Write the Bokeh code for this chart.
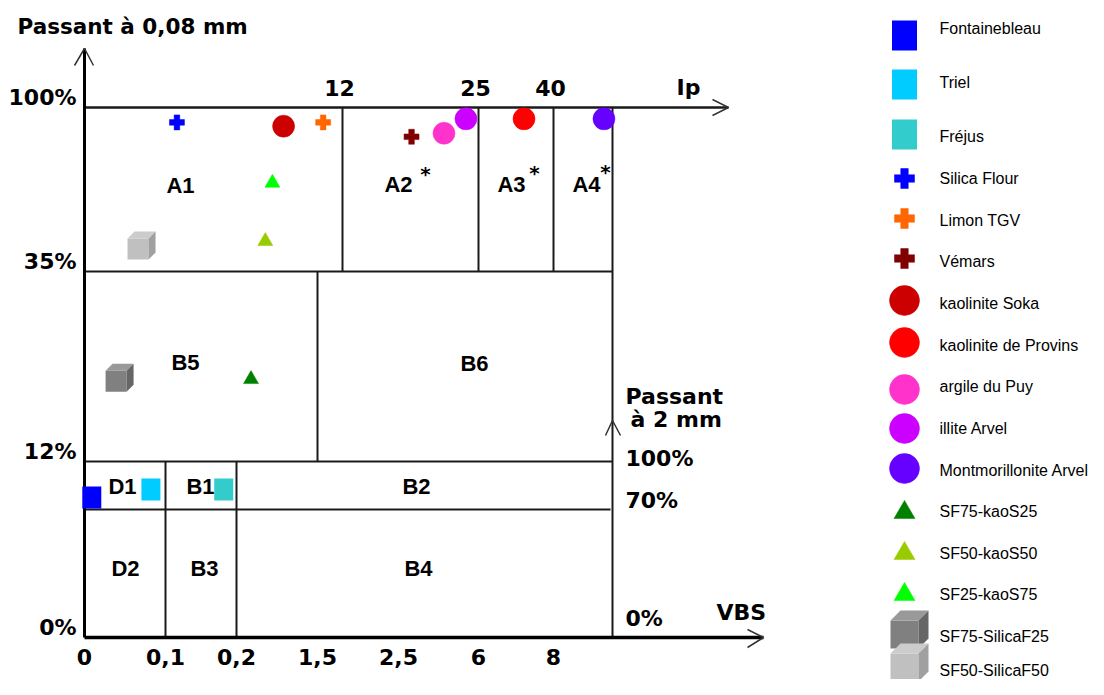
import numpy as np
from bokeh.plotting import figure
from bokeh.models import Range1d, ColumnDataSource
from bokeh.core.properties import value
from bokeh.embed import file_html
from bokeh.resources import INLINE

# ---------------- data ----------------
names = ["Fontainebleau", "Triel", "Fréjus", "Silica Flour", "Limon TGV", "Vémars",
         "kaolinite Soka", "kaolinite de Provins", "argile du Puy", "illite Arvel",
         "Montmorillonite Arvel", "SF75-kaoS25", "SF50-kaoS50", "SF25-kaoS75",
         "SF75-SilicaF25", "SF50-SilicaF50"]
colors = ["#0000FF", "#00CCFF", "#33CCCC", "#0000FF", "#FF6600", "#800000",
          "#CC0000", "#FF0000", "#FF33CC", "#CC00FF", "#6600FF",
          "#008000", "#99CC00", "#00FF00", "#808080", "#C0C0C0"]
markers = ["square", "square", "square", "plus", "plus", "plus",
           "circle", "circle", "circle", "circle", "circle",
           "triangle", "triangle", "triangle", "cube", "cube"]
# which scale each point uses
x_scale_of = ["VBS", "VBS", "VBS", "Ip", "Ip", "Ip", "Ip", "Ip", "Ip", "Ip", "Ip",
              "VBS", "Ip", "Ip", "VBS", "Ip"]
x_values = [0.009, 0.082, 0.182, 4.3, 11.1, 18.6, 9.26, 34.1, 21.7, 23.8, 57.1,
            0.433, 8.41, 8.74, 0.039, 2.49]
y_scale_of = ["P2", "P2", "P2", "P80", "P80", "P80", "P80", "P80", "P80", "P80", "P80",
              "P80", "P80", "P80", "P80", "P80"]
y_values = [77.5, 82.5, 82.5, 94.1, 94.1, 88.4, 92.6, 95.5, 89.8, 95.5, 95.5,
            22.2, 47.8, 70.9, 21.7, 43.9]

vbs_ticks = [0, 0.1, 0.2, 1.5, 2.5, 6, 8]
vbs_tick_labels = ["0", "0,1", "0,2", "1,5", "2,5", "6", "8"]
ip_ticks = [12, 25, 40]
ip_tick_labels = ["12", "25", "40"]
p80_ticks = [0, 12, 35, 100]
p80_tick_labels = ["0%", "12%", "35%", "100%"]
p2_ticks = [0, 70, 100]
p2_tick_labels = ["0%", "70%", "100%"]

zone_labels = ["A1", "A2", "A3", "A4", "B5", "B6", "D1", "B1", "B2", "D2", "B3", "B4"]

# ---------------- layout (schematic piecewise scales, screen px) ----------------
VBS_POS = [84, 165, 236, 317, 398, 478, 553]
IP_BREAKS = [0, 12, 25, 40, 60]
IP_POS = [84, 342, 478, 553, 612]
P80_POS = [637, 461, 271, 107]
P2_POS = [637, 509, 461]
X_RIGHT = 612

def fx(v, scale):
    if scale == "VBS":
        return float(np.interp(v, vbs_ticks, VBS_POS))
    return float(np.interp(v, IP_BREAKS, IP_POS))

def fy(v, scale):
    if scale == "P80":
        return float(np.interp(v, p80_ticks, P80_POS))
    return float(np.interp(v, p2_ticks, P2_POS))

W, H = 1088, 679
p = figure(width=W, height=H, output_backend="svg", toolbar_location=None,
           x_range=Range1d(0, W), y_range=Range1d(H, 0),
           x_axis_type=None, y_axis_type=None, min_border=0,
           outline_line_color=None, background_fill_color="white")
p.grid.visible = False

FONT = value("DejaVu Sans")
LFONT = value("Liberation Sans")
INK = "#1a1a1a"

# ---------------- frame lines ----------------
x0 = fx(0, "VBS")
y0 = fy(0, "P80")
ytop = fy(100, "P80")
y35 = fy(35, "P80")
y12 = fy(12, "P80")
y70 = fy(70, "P2")

thin_xs, thin_ys = [], []
def seg(xa, ya, xb, yb):
    thin_xs.append([xa, xb]); thin_ys.append([ya, yb])

seg(x0, y35, X_RIGHT, y35)
seg(x0, y12, X_RIGHT, y12)
seg(x0, y70, X_RIGHT - 2, y70)
for t in ip_ticks:
    seg(fx(t, "Ip"), ytop, fx(t, "Ip"), y35)
seg(X_RIGHT, ytop, X_RIGHT, y0)
seg(fx(1.5, "VBS"), y35, fx(1.5, "VBS"), y12)
seg(fx(0.1, "VBS"), y12, fx(0.1, "VBS"), y0)
seg(fx(0.2, "VBS"), y12, fx(0.2, "VBS"), y0)
p.multi_line(thin_xs, thin_ys, line_color=INK, line_width=2)

# Ip axis
p.line([x0, 728], [ytop, ytop], line_color=INK, line_width=2.5)
# main axes
p.line([x0, x0], [y0, 48], line_color="black", line_width=3)
p.line([x0, 763], [y0, y0], line_color="black", line_width=3.5)

# arrow heads (open chevrons)
ch_xs = [[74, x0, 93], [747, 763, 747], [712, 728, 712], [605, X_RIGHT, 620]]
ch_ys = [[65, 48, 65], [629, y0, 647], [99, ytop, 115], [435, 420, 435]]
p.multi_line(ch_xs, ch_ys, line_color="#333333", line_width=1.5)

# ---------------- axis texts ----------------
TS = "22px"
bold = dict(text_font=FONT, text_font_style="bold", text_color="black")
p.text(x=[17], y=[26], text=["Passant à 0,08 mm"], text_font_size="21.5px",
       text_align="left", text_baseline="middle", **bold)
p.text(x=[76] * 4, y=[fy(t, "P80") - 10 for t in p80_ticks], text=p80_tick_labels,
       text_font_size=TS, text_align="right", text_baseline="middle", **bold)
p.text(x=[fx(t, "VBS") for t in vbs_ticks], y=[656] * len(vbs_ticks), text=vbs_tick_labels,
       text_font_size=TS, text_align="center", text_baseline="middle", **bold)
p.text(x=[fx(t, "Ip") - 3 for t in ip_ticks], y=[87] * len(ip_ticks), text=ip_tick_labels,
       text_font_size=TS, text_align="center", text_baseline="middle", **bold)
p2_dy = [-19, -9, -3]
p.text(x=[625] * 3, y=[fy(t, "P2") + d for t, d in zip(p2_ticks, p2_dy)], text=p2_tick_labels,
       text_font_size=TS, text_align="left", text_baseline="middle", **bold)
p.text(x=[676, 716, 625, 630], y=[87, 612, 396, 419], text=["Ip", "VBS", "Passant", "à 2 mm"],
       text_font_size=TS, text_align="left", text_baseline="middle", **bold)
# zone labels
zx = [180, 398, 511, 586, 185, 474, 122, 200, 416, 125, 204, 418]
zy = [185, 184, 184, 184, 362, 363, 486, 486, 486, 568, 568, 568]
p.text(x=zx, y=zy, text=zone_labels, text_font=LFONT, text_font_style="bold",
       text_color="black", text_font_size="22px",
       text_align="center", text_baseline="middle")
p.text(x=[425, 534, 605], y=[173, 172, 171], text=["*", "*", "*"],
       text_font_size="20px", text_align="center", text_baseline="middle", **bold)

# ---------------- markers ----------------
px = [fx(v, s) for v, s in zip(x_values, x_scale_of)]
py = [fy(v, s) for v, s in zip(y_values, y_scale_of)]

LEG_X = 904
LEG_MY = [35, 84, 134, 178, 218, 258, 300, 342, 389, 428, 468, 510, 551, 592, 634, 667]
LEG_TY = [28, 82, 136, 178, 220, 261, 303, 345, 386, 428, 470, 511, 553, 594, 636, 670]

def idx(kind):
    return [i for i, m in enumerate(markers) if m == kind]

def draw_cube(cx, cy, s, d, color_front, color_top, color_side):
    # cx, cy = centre of front face
    h = s / 2.0
    l, r, t, b = cx - h, cx + h, cy - h, cy + h
    front = ([l, r, r, l], [t, t, b, b])
    top = ([l, l + d, r + d, r], [t, t - d, t - d, t])
    side = ([r, r + d, r + d, r], [t, t - d, b - d, b])
    p.patches([front[0], top[0], side[0]], [front[1], top[1], side[1]],
              fill_color=[color_front, color_top, color_side], line_color=None)

cube_shades = {"#808080": ("#808080", "#999999", "#666666"),
               "#C0C0C0": ("#C0C0C0", "#CCCCCC", "#A0A0A0")}

for where in ("plot", "legend"):
    if where == "plot":
        X, Y = px, py
        sq_w, sq_h, plus_s, circ_s, tri_s, cube_s, cube_d = 19, 22, 15, 22, 15, 21, 7
    else:
        X, Y = [LEG_X] * len(names), LEG_MY
        sq_w, sq_h, plus_s, circ_s, tri_s, cube_s, cube_d = 25, 30, 20, 30, 21, 28, 10
    ii = idx("square")
    p.rect(x=[X[i] for i in ii], y=[Y[i] for i in ii], width=sq_w, height=sq_h,
           width_units="screen", height_units="screen",
           fill_color=[colors[i] for i in ii], line_color=None)
    for kind, size in (("plus", plus_s), ("circle", circ_s), ("triangle", tri_s)):
        ii = idx(kind)
        src = ColumnDataSource(dict(x=[X[i] for i in ii],
                                    y=[Y[i] + (2 if kind == "triangle" else 0) for i in ii],
                                    c=[colors[i] for i in ii]))
        p.scatter("x", "y", source=src, marker=kind, size=size,
                  fill_color="c", line_color="c", line_width=0.5)
    for i in idx("cube"):
        fc, tc, sc = cube_shades[colors[i]]
        draw_cube(X[i], Y[i], cube_s, cube_d, fc, tc, sc)

p.text(x=[939] * len(names), y=LEG_TY, text=names, text_font=LFONT,
       text_font_size="16px", text_align="left", text_baseline="middle", text_color="black")

open("out.html", "w").write(file_html(p, INLINE))
